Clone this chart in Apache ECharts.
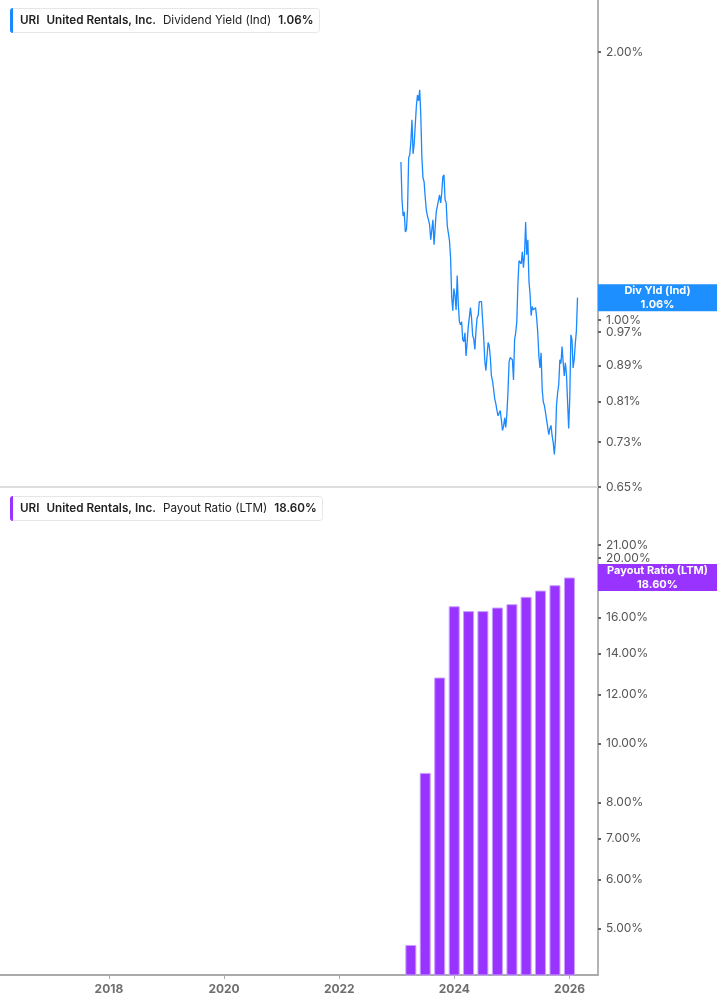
<!DOCTYPE html>
<html><head><meta charset="utf-8">
<script src="https://cdn.jsdelivr.net/npm/echarts@6/dist/echarts.min.js"></script>
<style>html,body{margin:0;padding:0;background:#fff}#c{width:717px;height:1005px}</style>
</head><body><div id="c"></div>
<script>
const ticker = 'URI';
const company = 'United Rentals, Inc.';
const yieldName = 'Dividend Yield (Ind)';
const yieldShort = 'Div Yld (Ind)';
const payoutName = 'Payout Ratio (LTM)';
const yieldStart = '2023-01-27'; // weekly observations from this date
const yieldValues = [
1.505,1.365,1.309,1.323,1.256,1.263,1.330,1.521,1.533,1.585,
1.678,1.537,1.577,1.656,1.739,1.789,1.762,1.813,1.699,1.521,
1.444,1.430,1.375,1.330,1.309,1.296,1.279,1.231,1.237,1.296,
1.215,1.269,1.323,1.343,1.347,1.382,1.354,1.389,1.448,1.456,
1.365,1.354,1.276,1.276,1.228,1.175,1.062,1.025,1.085,1.065,
1.027,1.122,1.041,0.996,0.988,0.996,0.951,0.946,0.968,0.912,
0.944,0.983,0.988,1.033,1.006,0.961,0.953,0.927,0.973,1.006,
1.012,1.049,1.049,1.049,1.001,0.956,0.901,0.878,0.878,0.944,
0.936,0.908,0.866,0.855,0.836,0.816,0.806,0.792,0.781,0.777,
0.792,0.773,0.752,0.760,0.777,0.758,0.785,0.831,0.898,0.908,
0.912,0.903,0.857,0.951,0.968,0.996,1.099,1.166,1.169,1.157,
1.193,1.145,1.184,1.289,1.184,1.231,1.107,1.070,1.012,1.036,
1.027,1.027,1.033,1.006,0.968,0.912,0.884,0.919,0.836,0.810,
0.802,0.788,0.790,0.758,0.744,0.756,0.762,0.742,0.729,0.707,
0.734,0.804,0.829,0.847,0.903,0.894,0.934,0.898,0.866,0.896,
0.869,0.810,0.756,0.819,0.963,0.951,0.884,0.903,0.941,0.973,
1.060];
const payoutDates = ['2023-03-31','2023-06-30','2023-09-30','2023-12-31','2024-03-31','2024-06-30',
                     '2024-09-30','2024-12-31','2025-03-31','2025-06-30','2025-09-30','2025-12-31'];
const payoutValues = [4.70, 8.95, 12.79, 16.70, 16.40, 16.40, 16.62, 16.83, 17.30, 17.71, 18.07, 18.60];
const yearTicks = ['2018-01-01','2020-01-01','2022-01-01','2024-01-01','2026-01-01'];
const yieldTicks = [0.65, 0.73, 0.81, 0.89, 0.97, 1.00, 2.00];
const payoutTicks = [5, 6, 7, 8, 10, 12, 14, 16, 18, 20, 21];
const xMin = '2016-02-10', xMax = '2026-06-30';

const FONT = 'Inter, "Noto Sans", "DejaVu Sans", sans-serif';
const BLUE = '#1a88ff', PURPLE = '#9933ff';
const pct = v => v.toFixed(2) + '%';
const ts = d => Date.UTC(+d.slice(0, 4), +d.slice(5, 7) - 1, +d.slice(8, 10));

const DAY = 86400000;
const t0 = ts(yieldStart);
const yieldData = yieldValues.map((v, i) => [t0 + i * 7 * DAY, v]);
const payoutData = payoutDates.map((d, i) => [ts(d), payoutValues[i]]);
const lastYield = yieldValues[yieldValues.length - 1];
const lastPayout = payoutValues[payoutValues.length - 1];
const yearTickTs = yearTicks.map(ts);

function legendTitle(top, color, name, val) {
  return {
    left: 10, top: top,
    text: '{bar|}{sp|}{b|' + ticker + '}{g|}{b|' + company + '}{g|}{n|' + name + '}{g|}{b|' + val + '}',
    padding: [0, 6, 0, 0],
    backgroundColor: '#fff', borderColor: '#e6e6e6', borderWidth: 1, borderRadius: 3,
    textStyle: {
      fontFamily: FONT, fontSize: 11.7, color: '#222',
      rich: {
        bar: { width: 3, height: 25, lineHeight: 25, backgroundColor: color, borderRadius: [3, 0, 0, 3] },
        sp: { width: 7 },
        g: { width: 7 },
        b: { fontFamily: FONT, fontSize: 11.7, fontWeight: 600, color: '#222', lineHeight: 25 },
        n: { fontFamily: FONT, fontSize: 11.7, fontWeight: 400, color: '#222', lineHeight: 25 }
      }
    }
  };
}

function endLabel(color, title, val) {
  return {
    silent: true, symbol: ['none', 'none'], animation: false,
    lineStyle: { color: 'rgba(0,0,0,0)', width: 0, opacity: 1 },
    data: [{ yAxis: val }],
    label: {
      show: true, position: 'end', distance: 0, opacity: 1,
      formatter: '{t|' + title + '}\n{t|' + pct(val) + '}',
      backgroundColor: color, padding: [0, 2],
      rich: { t: { width: 115, align: 'center', color: '#fff', fontWeight: 'bold', fontSize: 11, lineHeight: 13.5, fontFamily: FONT } }
    },
    emphasis: { disabled: true }
  };
}

function yAxisFor(gridIndex, min, max, ticks) {
  return {
    type: 'log', logBase: 10, position: 'right', gridIndex: gridIndex, min: min, max: max,
    splitLine: { show: false },
    axisLine: { show: true, lineStyle: { color: '#b3b3b3', width: 2 } },
    axisTick: { show: true, length: 3, lineStyle: { color: '#666', width: 2 }, customValues: ticks },
    axisLabel: { show: true, margin: 8, color: '#555', fontSize: 12, fontFamily: FONT,
      customValues: ticks, formatter: v => pct(v) }
  };
}

const option = {
  animation: false,
  title: [legendTitle(8, BLUE, yieldName, pct(lastYield)), legendTitle(496, PURPLE, payoutName, pct(lastPayout))],
  grid: [
    { left: 0, right: 119, top: 0, height: 487, containLabel: false },
    { left: 0, right: 119, top: 488, bottom: 30, containLabel: false }
  ],
  xAxis: [
    { type: 'value', gridIndex: 0, min: ts(xMin), max: ts(xMax),
      axisLine: { show: true, onZero: false, lineStyle: { color: '#dddddd', width: 2 } },
      axisTick: { show: false }, axisLabel: { show: false }, splitLine: { show: false } },
    { type: 'value', gridIndex: 1, min: ts(xMin), max: ts(xMax),
      axisLine: { show: true, onZero: false, lineStyle: { color: '#aaaaaa', width: 2 } },
      axisTick: { show: true, length: 4, lineStyle: { color: '#aaaaaa', width: 1 }, customValues: yearTickTs },
      axisLabel: { show: true, margin: 8, color: '#6e6e6e', fontWeight: 'bold', fontSize: 12, fontFamily: FONT,
        customValues: yearTickTs, formatter: v => String(new Date(v).getUTCFullYear()) },
      splitLine: { show: false } }
  ],
  yAxis: [
    yAxisFor(0, 0.6499, 2.287, yieldTicks),
    yAxisFor(1, 4.2, 26, payoutTicks)
  ],
  series: [
    { type: 'line', name: yieldName, xAxisIndex: 0, yAxisIndex: 0, data: yieldData,
      showSymbol: false, symbol: 'none', lineStyle: { color: BLUE, width: 1.3 },
      markLine: endLabel('#1e8fff', yieldShort, lastYield) },
    { type: 'bar', name: payoutName, xAxisIndex: 1, yAxisIndex: 1, data: payoutData,
      barWidth: 11, clip: true,
      itemStyle: { color: PURPLE, borderColor: '#c9a0ff', borderWidth: 1 },
      markLine: endLabel(PURPLE, payoutName, lastPayout) }
  ]
};

const chart = echarts.init(document.getElementById('c'));
chart.setOption(option);
</script>
</body></html>
